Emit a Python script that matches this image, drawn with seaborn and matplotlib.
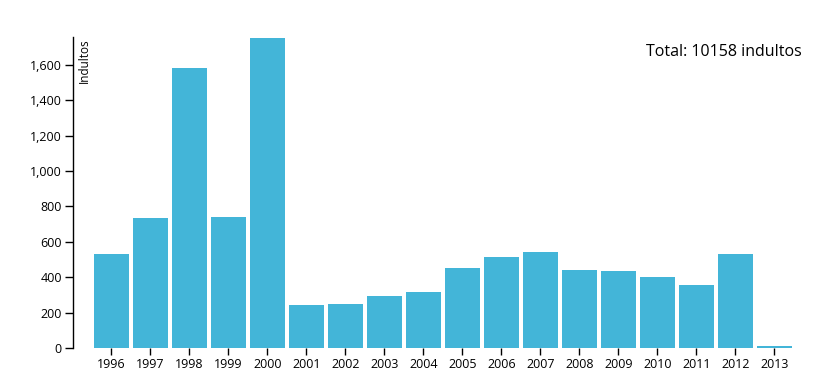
import matplotlib
matplotlib.use("Agg")
import matplotlib.pyplot as plt
import seaborn as sns
import pandas as pd
from matplotlib.ticker import FuncFormatter

years = ["1996", "1997", "1998", "1999", "2000", "2001", "2002", "2003", "2004",
         "2005", "2006", "2007", "2008", "2009", "2010", "2011", "2012", "2013"]
indultos = [529, 735, 1580, 740, 1750, 243, 250, 295, 316,
            454, 514, 541, 441, 435, 401, 356, 531, 10]
total_label = "Total: 10158 indultos"

df = pd.DataFrame({"year": years, "indultos": indultos})

sns.set_style("white")
plt.rcParams["font.family"] = ["Open Sans", "DejaVu Sans"]
plt.rcParams["text.color"] = "black"
plt.rcParams["xtick.color"] = "black"
plt.rcParams["ytick.color"] = "black"

fig = plt.figure(figsize=(8.28, 3.81), dpi=100)
ax = fig.add_axes([73 / 828, 33 / 381, (800 - 73) / 828, 311 / 381])

sns.barplot(data=df, x="year", y="indultos", color="#43b5d8", saturation=1,
            width=0.9, linewidth=0, ax=ax)

ax.set_xlim(-0.987, 17.654)
ax.set_ylim(0, 1757)
ax.set_yticks(range(0, 1601, 200))
ax.yaxis.set_major_formatter(FuncFormatter(lambda v, p: f"{int(v):,}"))

for s in ["top", "right", "bottom"]:
    ax.spines[s].set_visible(False)
ax.spines["left"].set_color("black")
ax.spines["left"].set_linewidth(1)

ax.tick_params(axis="y", direction="out", length=6, width=1, color="black",
               labelcolor="black", labelsize=9, pad=2, left=True)
ax.tick_params(axis="x", direction="out", length=5, width=1, color="black",
               labelcolor="black", labelsize=9, pad=2, bottom=True)
ax.set_xlabel("")
ax.set_ylabel("")

fig.text(78 / 828, 1 - 38 / 381, "Indultos", rotation=90,
         ha="left", va="top", fontsize=8.5)
fig.text(802 / 828, 1 - 52 / 381, total_label, ha="right", va="center",
         fontsize=11.5)

fig.savefig("out.png", dpi=100)
